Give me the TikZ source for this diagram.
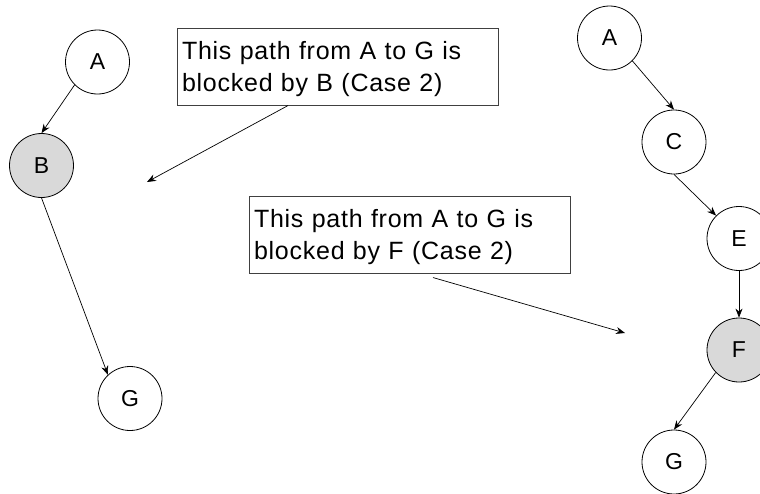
\documentclass[tikz,border=0pt]{standalone}
\usepackage{fontspec}
\setmainfont{Liberation Sans}
\newfontfamily\boxfont[LetterSpace=3]{Liberation Sans}
\usetikzlibrary{arrows.meta}
\newcommand{\firststrut}{\rule{0pt}{22pt}}
\begin{document}
\begin{tikzpicture}[x=1pt,y=-1pt,
  vnode/.style={circle,draw=black,line width=0.8pt,minimum size=64pt,inner sep=0pt,font=\fontsize{23}{26}\selectfont},
  shaded/.style={vnode,fill=black!15},
  note/.style={draw=black!75,line width=0.9pt,text width=311pt,inner xsep=5pt,inner ysep=8.5pt,align=left,
    font=\boxfont\fontsize{25}{32}\selectfont},
  edge/.style={line width=0.7pt,-{Stealth[length=9pt,width=7pt]}}]
\useasboundingbox (0,0) rectangle (760,493);
\clip (0,0) rectangle (760,493);
% left chain
\node[vnode] (la) at (97.5,62) {A};
\node[shaded] (lb) at (41.5,165.5) {B};
\node[vnode] (lg) at (130,398.5) {G};
\draw[edge] (la.225) -- (lb.north);
\draw[edge] (lb.south) -- (lg.133);
% right chain
\node[vnode] (ra) at (609.5,38) {A};
\node[vnode] (rc) at (674,142) {C};
\node[vnode] (re) at (739,238.5) {E};
\node[shaded] (rf) at (739,350) {F};
\node[vnode] (rg) at (674,462) {G};
\draw[edge] (ra.-45) -- (rc.north);
\draw[edge] (rc.south) -- (re.135);
\draw[edge] (re.south) -- (rf.north);
\draw[edge] (rf.224) -- (rg.north);
% notes
\node[note] (n1) at (337.5,67) {\firststrut This path from A to G is\\blocked by B (Case 2)};
\node[note] (n2) at (409.5,235) {\firststrut This path from A to G is\\blocked by F (Case 2)};
\coordinate (p1) at (147,182);
\coordinate (p2) at (625,333);
\draw[edge] (n1.south -| 288,0) -- (p1);
\draw[edge] ([yshift=-4pt]n2.south -| 433,0) -- (p2);
\end{tikzpicture}
\end{document}
